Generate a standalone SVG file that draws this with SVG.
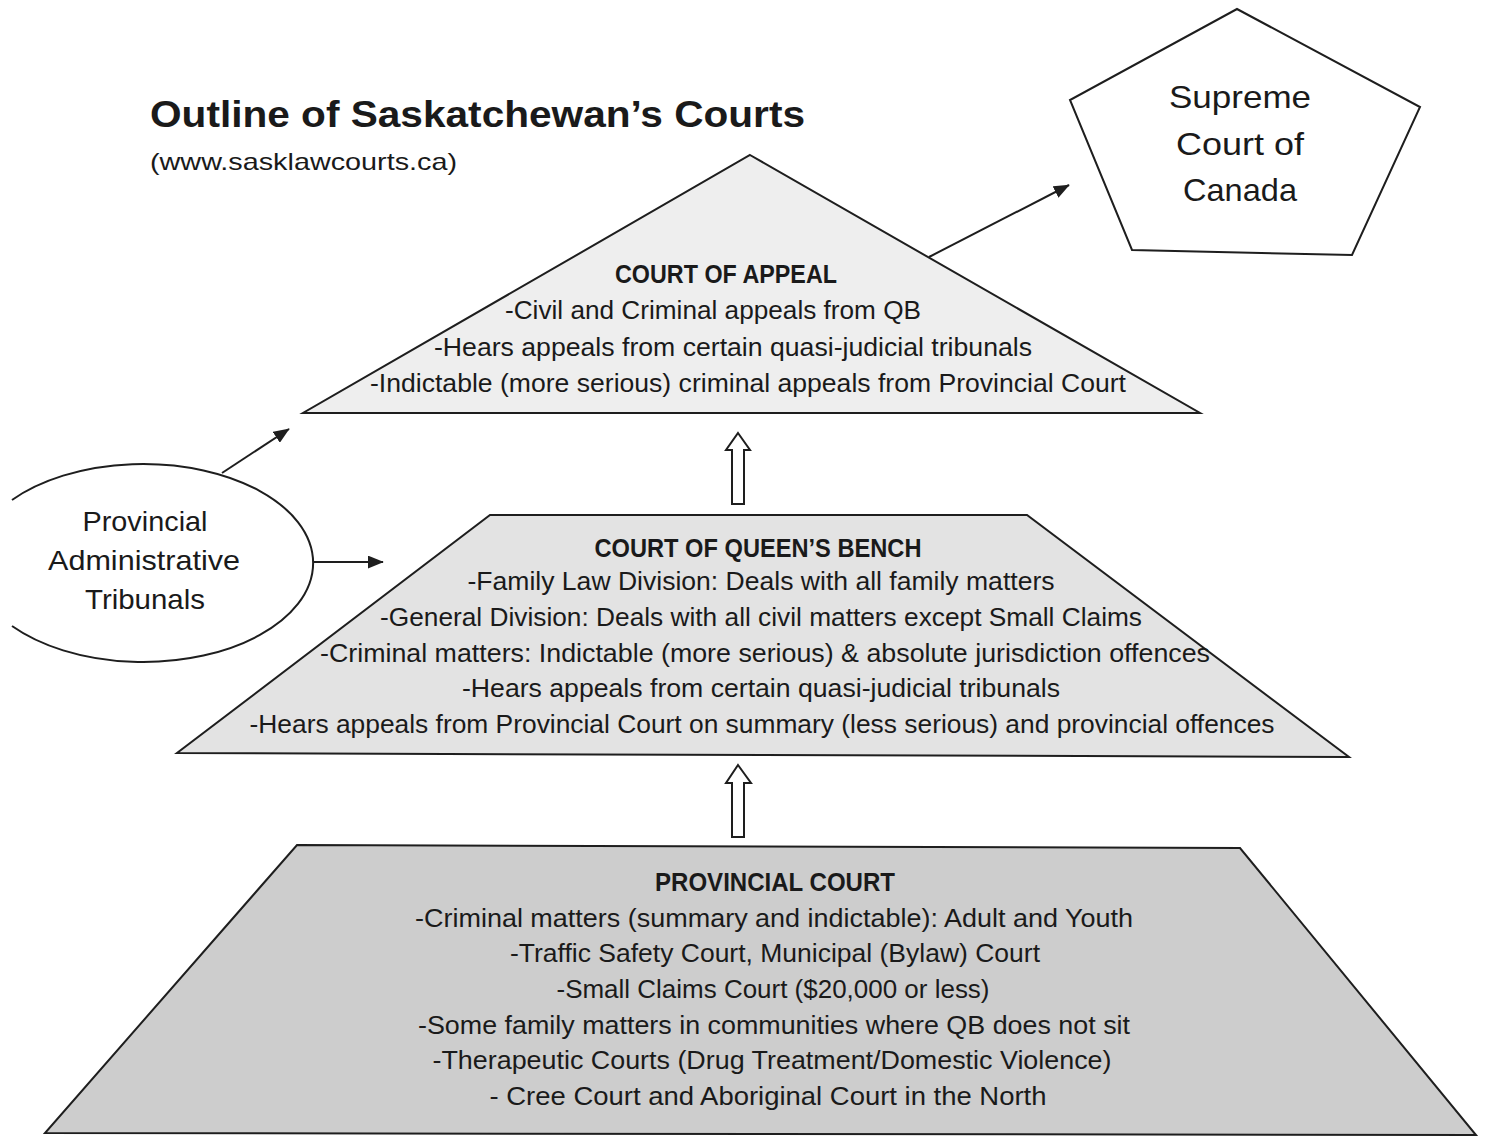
<svg xmlns="http://www.w3.org/2000/svg" width="1485" height="1139" viewBox="0 0 1485 1139">
<style>
.t{font-family:"Liberation Sans",Arial,sans-serif;fill:#1a1a1a}
.b{font-weight:bold}
.pt{font-size:25px}
.shape{stroke:#1e1e1e;stroke-width:2;stroke-linejoin:miter}
.conn{stroke:#1e1e1e;stroke-width:2;fill:none}
</style>
<defs>
<marker id="ah" viewBox="0 0 10 10" refX="9.5" refY="5" markerWidth="16" markerHeight="13" markerUnits="userSpaceOnUse" orient="auto" preserveAspectRatio="none">
<path d="M0,0 L10,5 L0,10 Z" fill="#1e1e1e"/>
</marker>
</defs>
<rect width="1485" height="1139" fill="#ffffff"/>

<g id="title">
<text class="t b" x="150" y="127" font-size="36" textLength="655" lengthAdjust="spacingAndGlyphs">Outline of Saskatchewan’s Courts</text>
<text class="t" x="150" y="170" font-size="24" textLength="307" lengthAdjust="spacingAndGlyphs">(www.sasklawcourts.ca)</text>
</g>

<g id="supreme-court">
<polygon class="shape" points="1237,9 1420,107 1352,255 1132,250 1070,100" fill="#ffffff"/>
<text class="t" x="1240" y="108" font-size="32" text-anchor="middle" textLength="142" lengthAdjust="spacingAndGlyphs">Supreme</text>
<text class="t" x="1240" y="155" font-size="32" text-anchor="middle" textLength="128" lengthAdjust="spacingAndGlyphs">Court of</text>
<text class="t" x="1240" y="201" font-size="32" text-anchor="middle" textLength="114" lengthAdjust="spacingAndGlyphs">Canada</text>
</g>

<g id="court-of-appeal">
<polygon class="shape" points="750,155 1200,413 303,413" fill="#eeeeee"/>
<text class="t b pt" x="726" y="283" text-anchor="middle" textLength="222" lengthAdjust="spacingAndGlyphs">COURT OF APPEAL</text>
<text class="t pt" x="713" y="319" text-anchor="middle" textLength="416" lengthAdjust="spacingAndGlyphs">-Civil and Criminal appeals from QB</text>
<text class="t pt" x="733" y="356" text-anchor="middle" textLength="598" lengthAdjust="spacingAndGlyphs">-Hears appeals from certain quasi-judicial tribunals</text>
<text class="t pt" x="748" y="392" text-anchor="middle" textLength="756" lengthAdjust="spacingAndGlyphs">-Indictable (more serious) criminal appeals from Provincial Court</text>
</g>

<g id="court-of-queens-bench">
<polygon class="shape" points="490,515 1027,515 1349,757 177,753" fill="#e3e3e3"/>
<text class="t b pt" x="758" y="557" text-anchor="middle" textLength="327" lengthAdjust="spacingAndGlyphs">COURT OF QUEEN’S BENCH</text>
<text class="t pt" x="761" y="590" text-anchor="middle" textLength="587" lengthAdjust="spacingAndGlyphs">-Family Law Division: Deals with all family matters</text>
<text class="t pt" x="761" y="626" text-anchor="middle" textLength="762" lengthAdjust="spacingAndGlyphs">-General Division: Deals with all civil matters except Small Claims</text>
<text class="t pt" x="765" y="662" text-anchor="middle" textLength="890" lengthAdjust="spacingAndGlyphs">-Criminal matters: Indictable (more serious) &amp; absolute jurisdiction offences</text>
<text class="t pt" x="761" y="697" text-anchor="middle" textLength="598" lengthAdjust="spacingAndGlyphs">-Hears appeals from certain quasi-judicial tribunals</text>
<text class="t pt" x="762" y="733" text-anchor="middle" textLength="1025" lengthAdjust="spacingAndGlyphs">-Hears appeals from Provincial Court on summary (less serious) and provincial offences</text>
</g>

<g id="provincial-court">
<polygon class="shape" points="297,845 1240,848 1476,1135 45,1133" fill="#cdcdcd"/>
<text class="t b pt" x="775" y="891" text-anchor="middle" textLength="240" lengthAdjust="spacingAndGlyphs">PROVINCIAL COURT</text>
<text class="t pt" x="774" y="927" text-anchor="middle" textLength="718" lengthAdjust="spacingAndGlyphs">-Criminal matters (summary and indictable): Adult and Youth</text>
<text class="t pt" x="775" y="962" text-anchor="middle" textLength="530" lengthAdjust="spacingAndGlyphs">-Traffic Safety Court, Municipal (Bylaw) Court</text>
<text class="t pt" x="773" y="998" text-anchor="middle" textLength="433" lengthAdjust="spacingAndGlyphs">-Small Claims Court ($20,000 or less)</text>
<text class="t pt" x="774" y="1034" text-anchor="middle" textLength="712" lengthAdjust="spacingAndGlyphs">-Some family matters in communities where QB does not sit</text>
<text class="t pt" x="772" y="1069" text-anchor="middle" textLength="679" lengthAdjust="spacingAndGlyphs">-Therapeutic Courts (Drug Treatment/Domestic Violence)</text>
<text class="t pt" x="768" y="1105" text-anchor="middle" textLength="557" lengthAdjust="spacingAndGlyphs">- Cree Court and Aboriginal Court in the North</text>
</g>

<g id="provincial-administrative-tribunals">
<path class="shape" d="M12,500 A170,99 0 1,1 12,626" fill="#ffffff"/>
<text class="t" x="145" y="531" font-size="28" text-anchor="middle" textLength="125" lengthAdjust="spacingAndGlyphs">Provincial</text>
<text class="t" x="144" y="570" font-size="28" text-anchor="middle" textLength="192" lengthAdjust="spacingAndGlyphs">Administrative</text>
<text class="t" x="145" y="609" font-size="28" text-anchor="middle" textLength="120" lengthAdjust="spacingAndGlyphs">Tribunals</text>
</g>

<g id="connectors">
<line class="conn" x1="222" y1="473" x2="289" y2="429" marker-end="url(#ah)"/>
<line class="conn" x1="314" y1="562" x2="383" y2="562" marker-end="url(#ah)"/>
<line class="conn" x1="929" y1="257" x2="1069" y2="185" marker-end="url(#ah)"/>
<path class="conn" fill="#ffffff" d="M738,433 L750,450 L744,450 L744,504 L732,504 L732,450 L726,450 Z"/>
<path class="conn" fill="#ffffff" d="M738,765 L751,783 L744,783 L744,837 L732,837 L732,783 L726,783 Z"/>
</g>
</svg>
